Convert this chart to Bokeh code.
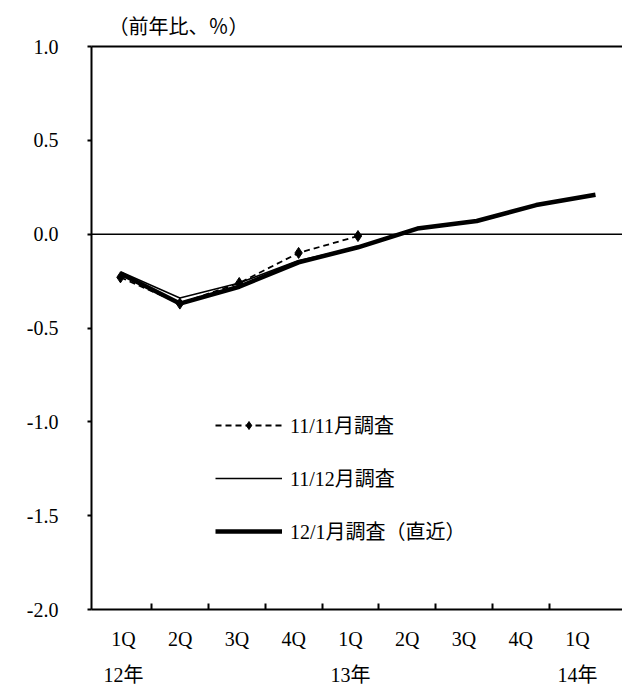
from bokeh.plotting import figure
from bokeh.models import (FixedTicker, LinearAxis, Span, Legend, LegendItem,
                          Range1d)
from bokeh.embed import file_html
from bokeh.resources import INLINE

# ---- data ----
quarters = ["1Q", "2Q", "3Q", "4Q", "1Q", "2Q", "3Q", "4Q", "1Q"]
years = {0: "12年", 4: "13年", 8: "14年"}
x_nov = [0, 1, 2, 3, 4]
y_nov = [-0.23, -0.37, -0.26, -0.10, -0.01]          # 11/11月調査
x_dec = [0, 1, 2, 3, 4]
y_dec = [-0.20, -0.34, -0.26, -0.14, -0.07]          # 11/12月調査
x_jan = [0, 1, 2, 3, 4, 5, 6, 7, 8]
y_jan = [-0.21, -0.37, -0.28, -0.15, -0.07, 0.03, 0.07, 0.155, 0.21]  # 12/1月調査（直近）
yticks = [-2.0, -1.5, -1.0, -0.5, 0.0, 0.5, 1.0]
ytick_labels = ["-2.0", "-1.5", "-1.0", "-0.5", "0.0", "0.5", "1.0"]

FONT = "'Liberation Serif', 'Noto Sans CJK JP'"

p = figure(width=622, height=688, output_backend="svg", toolbar_location=None,
           x_range=Range1d(-0.488, 8.455), y_range=Range1d(-2.0, 1.0),
           min_border_left=91, min_border_right=0, min_border_top=46,
           min_border_bottom=78, x_axis_type=None)
p.extra_x_ranges = {"cats": Range1d(-0.564, 8.793)}
p.grid.visible = False
p.outline_line_color = None

# title
p.title.text = "（前年比、％）"
p.title.text_font = FONT
p.title.text_font_size = "20px"
p.title.text_font_style = "normal"
p.title.text_color = "black"
p.title.offset = 17
p.title.standoff = 17

# y axis
ya = p.yaxis[0]
ya.ticker = FixedTicker(ticks=yticks)
ya.major_label_overrides = {t: l for t, l in zip(yticks, ytick_labels)}
ya.major_tick_in = 0
ya.major_tick_out = 4
ya.major_tick_line_width = 2
ya.minor_tick_line_color = None
ya.axis_line_width = 2
ya.major_label_standoff = 29
ya.major_label_text_font = FONT
ya.major_label_text_font_size = "20px"
ya.major_label_text_color = "black"

# x axis (quarters)
xa = LinearAxis(x_range_name="cats",
                ticker=FixedTicker(ticks=list(range(len(quarters))),
                                   minor_ticks=[i + 0.5 for i in range(len(quarters) - 1)]))
xa.major_label_overrides = {i: q for i, q in enumerate(quarters)}
xa.major_tick_in = 0
xa.major_tick_out = 0
xa.minor_tick_in = 6
xa.minor_tick_out = 0
xa.minor_tick_line_width = 2
xa.axis_line_width = 2
xa.major_label_standoff = 18
xa.major_label_text_font = FONT
xa.major_label_text_font_size = "20px"
xa.major_label_text_color = "black"
p.add_layout(xa, "below")

# x axis (years)
ya2 = LinearAxis(x_range_name="cats", ticker=FixedTicker(ticks=list(years.keys())))
ya2.major_label_overrides = years
ya2.axis_line_color = None
ya2.major_tick_line_color = None
ya2.minor_tick_line_color = None
ya2.major_label_standoff = 5
ya2.major_label_text_font = FONT
ya2.major_label_text_font_size = "20px"
ya2.major_label_text_color = "black"
p.add_layout(ya2, "below")

# top border
top = LinearAxis(ticker=FixedTicker(ticks=[]), axis_line_width=2,
                 major_tick_line_color=None, minor_tick_line_color=None,
                 major_label_text_font_size="0px")
p.add_layout(top, "above")

p.add_layout(Span(location=0, dimension="width", line_color="black", line_width=1.5))

r_nov = p.line(x_nov, y_nov, line_color="black", line_width=1.8, line_dash="6 4")
s_nov = p.scatter(x_nov, y_nov, marker="diamond", size=11, color="black")
r_dec = p.line(x_dec, y_dec, line_color="black", line_width=1.5)
r_jan = p.line(x_jan, y_jan, line_color="black", line_width=4.5)

legend = Legend(items=[LegendItem(label="11/11月調査", renderers=[r_nov, s_nov]),
                       LegendItem(label="11/12月調査", renderers=[r_dec]),
                       LegendItem(label="12/1月調査（直近）", renderers=[r_jan])],
                location=(124, 64), padding=0, margin=0, border_line_color=None,
                background_fill_alpha=0, glyph_width=67, glyph_height=20,
                label_height=20, label_standoff=8, spacing=24,
                label_text_font=FONT, label_text_font_size="20px",
                label_text_color="black")
p.add_layout(legend, "center")

open("out.html", "w").write(file_html(p, INLINE))
